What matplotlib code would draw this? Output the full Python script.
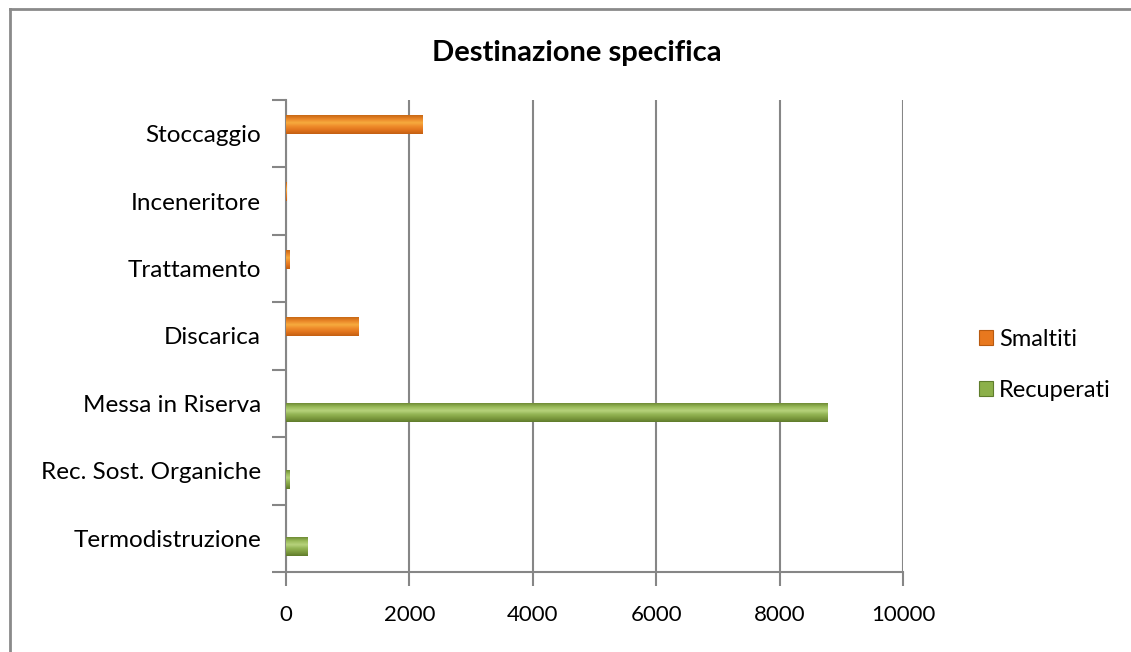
import matplotlib
matplotlib.use("Agg")
import matplotlib.pyplot as plt
import numpy as np
from matplotlib.patches import Patch
from matplotlib.lines import Line2D
from matplotlib.colors import LinearSegmentedColormap

categories = ["Termodistruzione", "Rec. Sost. Organiche", "Messa in Riserva",
              "Discarica", "Trattamento", "Inceneritore", "Stoccaggio"]
smaltiti = [0, 0, 0, 1170, 60, 10, 2220]
recuperati = [355, 60, 8770, 0, 0, 0, 0]
series_names = ["Smaltiti", "Recuperati"]
x_ticks = [0, 2000, 4000, 6000, 8000, 10000]

orange = "#e8781e"
green = "#8cb04a"
grid_col = "#868686"

# vertical shading of the bars: dark bottom edge, bright band near the top
orange_cmap = LinearSegmentedColormap.from_list(
    "o", ["#c45f12", "#e0731c", "#ee8a2a", "#f7ab3e", "#e98628", "#c86814"])
green_cmap = LinearSegmentedColormap.from_list(
    "g", ["#5f7b2c", "#7c9a3e", "#93b454", "#b6d27c", "#9abb5a", "#6f8c35"])

plt.rcParams["font.family"] = ["Lato", "DejaVu Sans"]

W, H = 1131, 652
fig = plt.figure(figsize=(W / 100, H / 100), dpi=100)
ax = fig.add_axes([286 / W, 1 - 572 / H, (903 - 286) / W, (572 - 100) / H])

y = np.arange(len(categories))
bh = 0.27
grad = np.linspace(0, 1, 64).reshape(-1, 1)


def shaded_bars(values, centers, cmap):
    for v, c in zip(values, centers):
        if v <= 0:
            continue
        ax.imshow(grad, cmap=cmap, aspect="auto", origin="lower",
                  extent=(0, v, c - bh / 2, c + bh / 2), zorder=3,
                  interpolation="bilinear")


shaded_bars(smaltiti, y + bh / 2, orange_cmap)
shaded_bars(recuperati, y - bh / 2, green_cmap)

ax.set_xlim(0, 10000)
ax.set_ylim(-0.5, len(categories) - 0.5)
ax.set_xticks(x_ticks)
ax.set_xticklabels([str(t) for t in x_ticks], fontsize=16)
ax.set_yticks(np.arange(-0.5, len(categories), 1.0))
ax.set_yticklabels([])
ax.set_yticks(y, minor=True)
ax.set_yticklabels(categories, minor=True, fontsize=17.5)
ax.tick_params(axis="y", which="minor", length=0, pad=18)
ax.tick_params(axis="y", which="major", length=10, width=1.5, color=grid_col)
ax.tick_params(axis="x", length=10, width=1.5, color=grid_col, pad=14)

ax.grid(axis="x", color=grid_col, linewidth=1.5, zorder=0)
ax.set_axisbelow(True)
for s in ["top", "right"]:
    ax.spines[s].set_visible(False)
for s in ["left", "bottom"]:
    ax.spines[s].set_color(grid_col)
    ax.spines[s].set_linewidth(1.5)

fig.text(577 / W, 1 - 53 / H, "Destinazione specifica", ha="center", va="center",
         fontsize=21, fontweight="bold")

handles = [Patch(facecolor=orange, edgecolor="#b85a10", linewidth=0.8),
           Patch(facecolor=green, edgecolor="#5f7d2c", linewidth=0.8)]
fig.legend(handles, series_names, loc="center left",
           bbox_to_anchor=(958 / W, 1 - 365 / H), frameon=False, fontsize=17,
           handlelength=0.6, handleheight=0.6, handletextpad=0.25,
           labelspacing=1.25)

# outer frame of the chart area
fig.add_artist(Line2D([10 / W, 10 / W], [0, 1 - 9 / H], color="#8a8a8a",
                      linewidth=2, transform=fig.transFigure))
fig.add_artist(Line2D([10 / W, 1], [1 - 9 / H, 1 - 9 / H], color="#8a8a8a",
                      linewidth=2, transform=fig.transFigure))

fig.savefig("out.png", dpi=100)
